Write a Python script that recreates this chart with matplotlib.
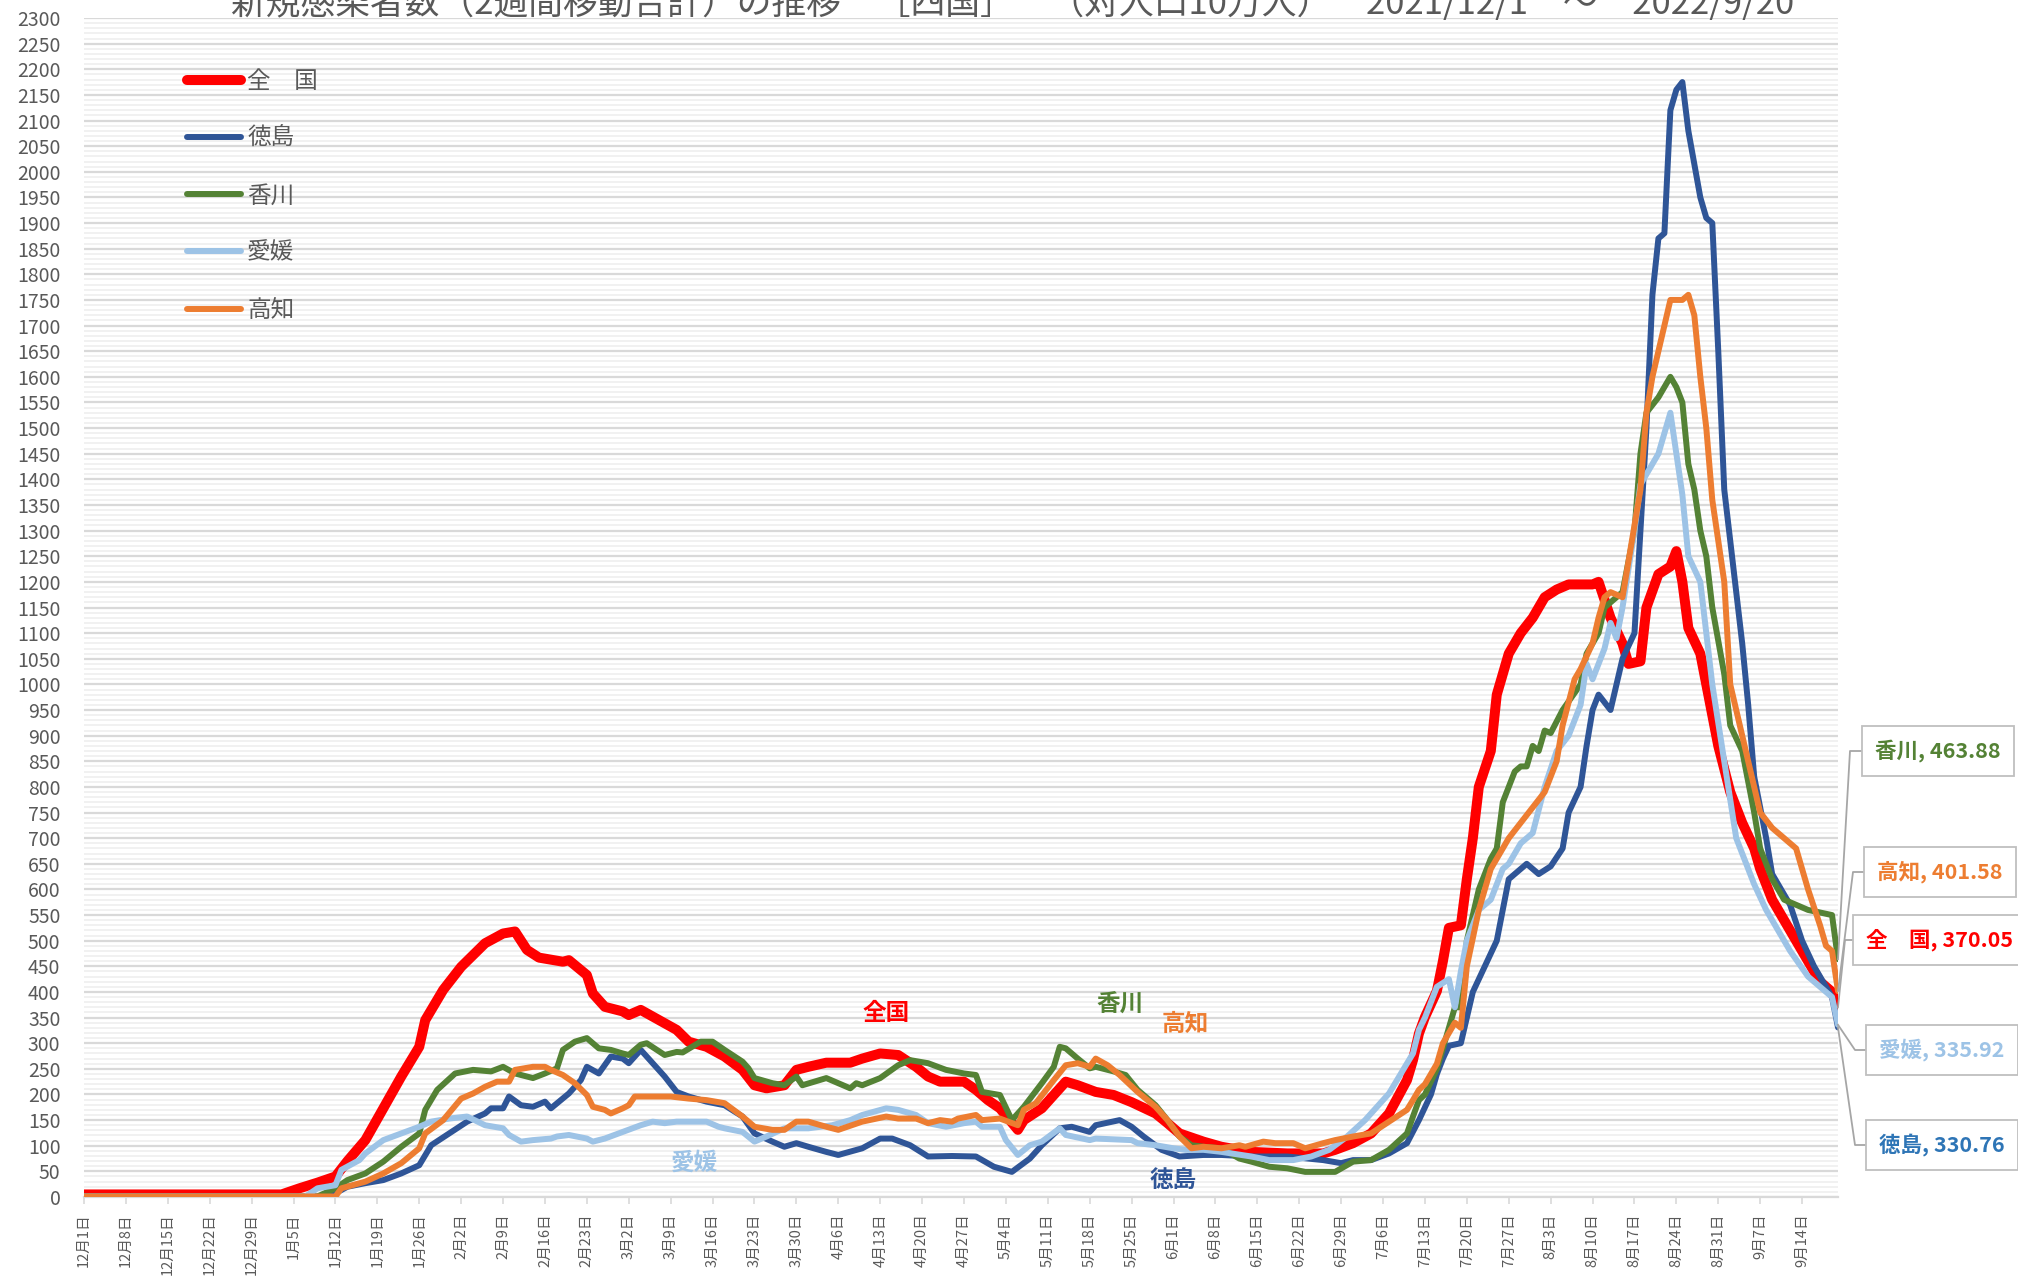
import numpy as np
import pandas as pd
import matplotlib
matplotlib.use('Agg')
import matplotlib.pyplot as plt
from matplotlib.lines import Line2D
from matplotlib.ticker import MultipleLocator

plt.rcParams['font.family'] = ['Noto Sans CJK JP', 'DejaVu Sans']

title = '新規感染者数（2週間移動合計）の推移　［四国］　（対人口10万人）　2021/12/1　～　2022/9/20'
start = pd.Timestamp('2021-12-01')
end = pd.Timestamp('2022-09-20')

# days after 2021/12/1
zenkoku_day = [0, 33, 36, 39, 42, 44, 47, 50, 53, 56, 57, 60, 63, 67, 70, 72, 73, 74, 76, 80, 81, 84, 85, 87,
               90, 91, 93, 99, 101, 104, 107, 110, 112, 114, 117, 119, 121, 124, 128, 130, 133, 136, 139, 141,
               143, 147, 149, 151, 153, 156, 157, 160, 164, 166, 169, 172, 175, 179, 181, 183, 187, 190, 195,
               201, 207, 209, 212, 215, 218, 221, 222, 223, 224, 226, 227, 228, 230, 231, 232, 233, 235, 236,
               238, 240, 242, 244, 246, 248, 252, 253, 255, 257, 258, 260, 261, 263, 265, 266, 267, 268, 270,
               271, 273, 275, 277, 279, 280, 282, 284, 286, 288, 290, 292, 293]
zenkoku_val = [5, 5, 17, 28, 40, 70, 111, 173, 235, 293, 345, 404, 449, 495, 514, 518, 500, 482, 467, 459, 462,
               433, 397, 371, 362, 355, 365, 326, 303, 293, 274, 248, 218, 212, 218, 248, 254, 262, 262, 270,
               280, 277, 254, 235, 225, 225, 209, 189, 173, 131, 150, 173, 225, 218, 205, 199, 185, 163, 144,
               124, 108, 98, 88, 85, 85, 92, 105, 124, 163, 228, 267, 319, 351, 402, 460, 525, 530, 620, 700,
               800, 870, 980, 1060, 1100, 1130, 1170, 1185, 1195, 1195, 1200, 1130, 1080, 1040, 1045, 1150,
               1215, 1230, 1260, 1200, 1110, 1060, 1000, 880, 790, 730, 680, 640, 580, 540, 500, 460, 420,
               400, 370.05]

tokushima_day = [0, 41, 44, 47, 50, 53, 56, 58, 61, 64, 67, 68, 70, 71, 73, 75, 77, 78, 81, 83, 84, 86, 88, 90,
                 91, 93, 95, 97, 99, 101, 104, 107, 110, 112, 115, 117, 119, 121, 124, 126, 130, 133, 135, 138,
                 141, 145, 149, 152, 155, 158, 160, 163, 165, 168, 169, 173, 175, 177, 180, 183, 187, 190, 195,
                 201, 207, 210, 212, 215, 218, 221, 223, 224, 225, 226, 227, 228, 230, 231, 232, 234, 236, 238,
                 240, 241, 243, 245, 247, 248, 250, 251, 252, 253, 255, 256, 257, 259, 260, 261, 262, 263, 264,
                 265, 266, 267, 268, 270, 271, 272, 273, 274, 276, 277, 278, 279, 281, 282, 285, 287, 289, 291,
                 292, 293]
tokushima_val = [1, 1, 20, 27, 33, 46, 62, 101, 124, 147, 163, 173, 173, 196, 179, 176, 186, 173, 202, 228, 254,
                 241, 274, 270, 261, 287, 261, 235, 205, 196, 186, 179, 157, 124, 108, 98, 105, 98, 88, 82, 95,
                 114, 114, 101, 79, 80, 79, 59, 49, 75, 101, 134, 137, 127, 140, 150, 137, 118, 92, 79, 82, 82,
                 79, 79, 72, 66, 72, 72, 85, 105, 150, 175, 200, 240, 270, 295, 300, 350, 400, 450, 500, 620,
                 640, 650, 630, 645, 680, 750, 800, 880, 950, 980, 950, 1000, 1050, 1100, 1300, 1500, 1760,
                 1870, 1880, 2120, 2160, 2175, 2080, 1950, 1910, 1900, 1650, 1380, 1180, 1080, 960, 820, 700,
                 630, 570, 500, 450, 410, 390, 330.76]

kagawa_day = [0, 39, 42, 44, 47, 50, 53, 56, 57, 59, 62, 65, 68, 70, 72, 75, 77, 79, 80, 82, 84, 86, 88, 90, 91,
              93, 94, 97, 99, 100, 103, 105, 107, 110, 111, 112, 115, 117, 119, 120, 124, 126, 128, 129, 130,
              133, 136, 138, 141, 144, 147, 149, 150, 153, 155, 157, 160, 162, 163, 164, 166, 168, 169, 172,
              174, 176, 179, 181, 183, 185, 187, 190, 193, 195, 198, 201, 204, 209, 212, 215, 218, 221, 222,
              223, 224, 226, 228, 229, 230, 231, 233, 235, 236, 237, 239, 240, 241, 242, 243, 244, 245, 247,
              250, 251, 253, 254, 256, 257, 259, 260, 261, 263, 265, 266, 267, 268, 269, 270, 271, 272, 274,
              275, 277, 279, 280, 282, 284, 286, 288, 290, 292, 293]
kagawa_val = [1, 1, 17, 33, 46, 69, 98, 124, 170, 209, 241, 248, 245, 254, 241, 232, 241, 251, 287, 303, 310,
              290, 287, 280, 277, 297, 300, 277, 283, 282, 303, 303, 287, 264, 251, 232, 222, 218, 235, 218,
              232, 222, 212, 222, 218, 232, 257, 267, 261, 248, 241, 238, 205, 199, 150, 176, 222, 254, 293,
              290, 270, 251, 254, 245, 238, 209, 179, 150, 118, 101, 98, 95, 75, 69, 59, 56, 49, 49, 69, 72,
              92, 124, 157, 189, 200, 250, 330, 370, 370, 500, 600, 660, 680, 770, 830, 840, 840, 880, 870,
              910, 905, 950, 1000, 1060, 1100, 1150, 1170, 1180, 1300, 1450, 1530, 1560, 1600, 1580, 1550,
              1430, 1380, 1300, 1250, 1150, 1020, 920, 870, 750, 680, 620, 580, 570, 560, 555, 550, 463.88]

ehime_day = [0, 37, 39, 42, 43, 46, 47, 50, 53, 56, 58, 61, 64, 67, 70, 71, 73, 75, 78, 79, 81, 84, 85, 87, 90,
             93, 95, 97, 99, 104, 106, 107, 110, 112, 114, 117, 121, 125, 128, 130, 134, 136, 139, 141, 144,
             147, 149, 150, 153, 154, 156, 158, 160, 163, 164, 168, 169, 175, 176, 179, 182, 184, 187, 190,
             195, 198, 202, 205, 208, 211, 214, 218, 220, 222, 223, 224, 225, 226, 228, 229, 230, 231, 233,
             235, 237, 238, 240, 242, 244, 246, 248, 250, 251, 252, 254, 255, 256, 257, 259, 260, 262, 263,
             265, 266, 267, 268, 270, 271, 272, 274, 276, 279, 281, 283, 285, 288, 291, 292, 293]
ehime_val = [1, 1, 17, 23, 53, 72, 85, 111, 124, 137, 147, 153, 157, 140, 134, 121, 108, 111, 114, 118, 121,
             114, 108, 114, 127, 140, 147, 144, 147, 147, 137, 134, 127, 108, 118, 134, 134, 140, 150, 160,
             173, 170, 160, 144, 137, 144, 147, 137, 137, 111, 82, 101, 108, 134, 121, 111, 114, 111, 105,
             101, 95, 92, 92, 88, 79, 72, 72, 79, 92, 118, 150, 202, 241, 280, 326, 350, 380, 410, 425, 370,
             440, 500, 560, 580, 640, 650, 690, 710, 800, 870, 900, 960, 1040, 1010, 1070, 1120, 1090, 1150,
             1300, 1390, 1430, 1450, 1530, 1450, 1370, 1250, 1200, 1100, 1000, 850, 700, 610, 560, 520, 480,
             430, 400, 390, 335.92]

kochi_day = [0, 42, 43, 47, 50, 53, 56, 57, 60, 63, 65, 67, 69, 71, 72, 75, 77, 78, 80, 82, 84, 85, 87, 88, 90,
             91, 92, 98, 101, 104, 107, 110, 112, 115, 117, 119, 121, 124, 126, 130, 134, 136, 139, 141, 143,
             145, 146, 149, 150, 153, 156, 157, 159, 162, 164, 166, 168, 169, 171, 173, 176, 179, 181, 183,
             185, 187, 190, 193, 194, 197, 199, 202, 204, 207, 209, 212, 215, 218, 221, 222, 223, 224, 226,
             227, 229, 230, 231, 233, 235, 237, 238, 240, 242, 244, 246, 247, 249, 250, 252, 253, 254, 255,
             257, 258, 260, 261, 262, 264, 265, 267, 268, 269, 270, 271, 272, 274, 275, 277, 279, 280, 282,
             285, 286, 288, 290, 291, 292, 293]
kochi_val = [1, 1, 17, 30, 46, 66, 95, 124, 150, 192, 202, 215, 225, 225, 248, 254, 254, 248, 238, 222, 199,
             176, 170, 163, 173, 179, 196, 196, 192, 189, 183, 157, 137, 131, 131, 147, 147, 137, 131, 147,
             157, 153, 153, 144, 150, 147, 153, 160, 150, 153, 140, 170, 183, 228, 257, 261, 254, 270, 257,
             238, 205, 176, 150, 118, 95, 98, 95, 101, 98, 108, 105, 105, 95, 105, 111, 118, 124, 147, 170,
             189, 209, 220, 260, 300, 340, 330, 450, 560, 640, 680, 700, 730, 760, 790, 850, 920, 1010, 1030,
             1080, 1130, 1170, 1180, 1170, 1240, 1380, 1530, 1600, 1700, 1750, 1750, 1760, 1720, 1600, 1500,
             1360, 1200, 1000, 900, 800, 750, 720, 690, 680, 600, 530, 490, 480, 401.58]

names = ['全　国', '徳島', '香川', '愛媛', '高知']
colors = ['#FF0000', '#2F5597', '#548235', '#9DC3E6', '#ED7D31']
widths = [7.2, 4.3, 4.3, 4.3, 4.3]
days = [zenkoku_day, tokushima_day, kagawa_day, ehime_day, kochi_day]
vals = [zenkoku_val, tokushima_val, kagawa_val, ehime_val, kochi_val]

W, H = 2018, 1282
fig = plt.figure(figsize=(W / 100, H / 100), dpi=100)
ax = fig.add_axes([84 / W, 1 - 1197 / H, (1838 - 84) / W, (1197 - 18) / H])

total_days = (end - start).days
ax.set_xlim(0, total_days)
ax.set_ylim(0, 2300)
ax.yaxis.set_major_locator(MultipleLocator(50))
ax.yaxis.set_minor_locator(MultipleLocator(10))
ax.grid(which='major', axis='y', color='#D9D9D9', lw=1.6)
ax.grid(which='minor', axis='y', color='#EFEFEF', lw=1.2)
ax.set_axisbelow(True)
for s in ['top', 'right', 'left']:
    ax.spines[s].set_visible(False)
ax.spines['bottom'].set_color('#D9D9D9')
ax.spines['bottom'].set_linewidth(1.6)
ax.tick_params(axis='y', which='both', length=0, labelsize=14, labelcolor='#595959', pad=17)

tick_dates = pd.date_range(start, end, freq='7D')
tick_days = [(d - start).days for d in tick_dates]
tick_labels = [f'{d.month}月{d.day}日' for d in tick_dates]
ax.set_xticks(tick_days)
ax.set_xticklabels(tick_labels, rotation=90, ha='center', va='top')
ax.tick_params(axis='x', length=5, width=1.2, color='#D9D9D9', labelsize=10.5, labelcolor='#595959', pad=7)

handles = []
for i in range(5):
    ln, = ax.plot(days[i], vals[i], color=colors[i], lw=widths[i], solid_joinstyle='round',
                  solid_capstyle='round', zorder=3 + i, label=names[i])
    handles.append(ln)

leg = fig.legend(handles=handles, loc='upper left', bbox_to_anchor=(187 / W, 1 - 70 / H),
                 frameon=False, fontsize=17, labelcolor='#595959', handlelength=2.3,
                 handletextpad=0.25, labelspacing=1.45, borderpad=0, borderaxespad=0)

# labels inside the plot
ax.text(134, 359, '全国', color=colors[0], fontsize=17, fontweight='bold', ha='center', va='center')
ax.text(173, 375, '香川', color=colors[2], fontsize=17, fontweight='bold', ha='center', va='center')
ax.text(184, 337, '高知', color=colors[4], fontsize=17, fontweight='bold', ha='center', va='center')
ax.text(102, 66, '愛媛', color=colors[3], fontsize=17, fontweight='bold', ha='center', va='center')
ax.text(182, 34, '徳島', color=colors[1], fontsize=17, fontweight='bold', ha='center', va='center')

# end value boxes with leader lines (pixel rows from the top)
box_order = [2, 4, 0, 3, 1]
box_y = [751, 872, 940, 1050, 1145]
box_x = [1875, 1877, 1866, 1879, 1879]
elbow_x = [1850, 1853, 1845, 1855, 1855]
box_color = ['#548235', '#ED7D31', '#FF0000', '#9DC3E6', '#2E75B6']
to_fig = fig.transFigure.inverted()
for k, i in enumerate(box_order):
    last = vals[i][-1]
    fig.text(box_x[k] / W, 1 - box_y[k] / H, f'{names[i]}, {last:.2f}', color=box_color[k],
             fontsize=15.5, fontweight='bold', ha='left', va='center',
             bbox=dict(boxstyle='square,pad=0.62', fc='white', ec='#BFBFBF', lw=1.3), zorder=10)
    px, py = to_fig.transform(ax.transData.transform((days[i][-1], last)))
    fig.add_artist(Line2D([(box_x[k] - 13) / W, elbow_x[k] / W, px],
                          [1 - box_y[k] / H, 1 - box_y[k] / H, py],
                          transform=fig.transFigure, color='#A6A6A6', lw=1.3, zorder=9))

fig.text(0.502, 1 - 14 / H, title, ha='center', va='baseline', fontsize=25, color='#595959')

fig.savefig('out.png', dpi=100)
